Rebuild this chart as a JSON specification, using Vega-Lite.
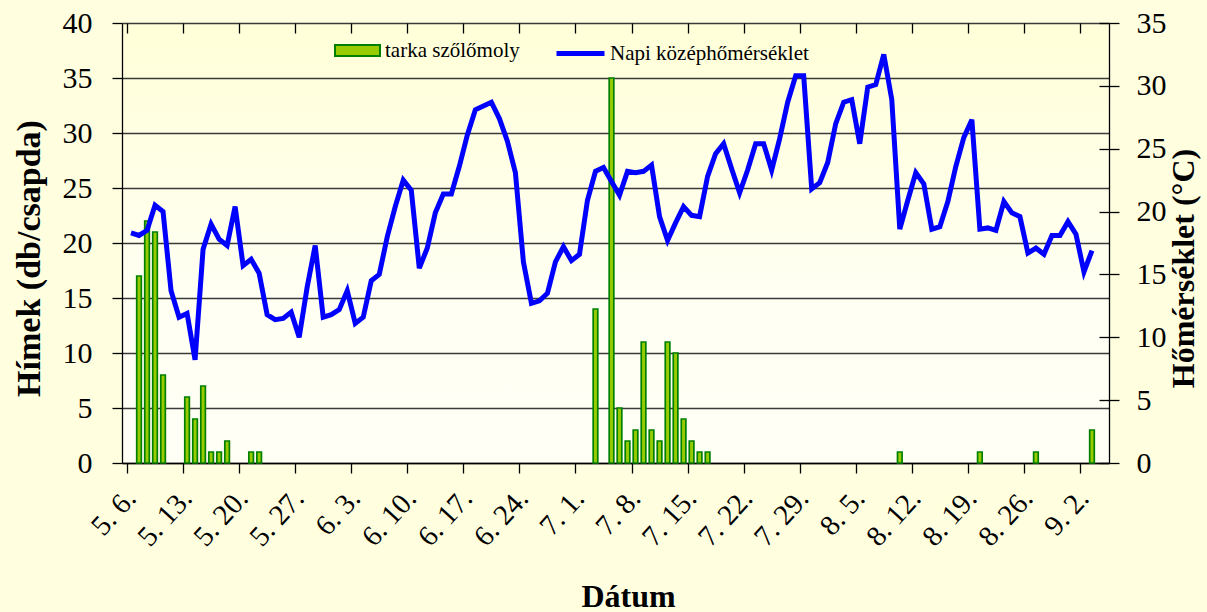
{
  "$schema": "https://vega.github.io/schema/vega-lite/v6.json",
  "autosize": "none",
  "width": 987,
  "height": 440,
  "padding": {"left": 122, "top": 23, "right": 98, "bottom": 149},
  "background": "#FFFFE0",
  "view": {"stroke": null, "fill": {"gradient": "linear", "x1": 0, "y1": 0, "x2": 0, "y2": 1, "stops": [{"offset": 0, "color": "#FFFFD8"}, {"offset": 0.6, "color": "#FFFFF2"}, {"offset": 1, "color": "#FFFFF6"}]}},
  "config": {
    "font": "Liberation Serif, Times New Roman, serif",
    "axis": {"labelFont": "Liberation Serif, Times New Roman, serif", "titleFont": "Liberation Serif, Times New Roman, serif", "labelColor": "#000000", "titleColor": "#000000", "domainColor": "#000000", "tickColor": "#000000", "domainWidth": 1.3, "tickWidth": 1.3},
    "legend": {"labelFont": "Liberation Serif, Times New Roman, serif", "labelColor": "#000000"}
  },
  "data": {"values": [
    {"date": "2010-05-06T12:00:00Z", "temp": 18.3},
    {"date": "2010-05-07T12:00:00Z", "temp": 18.1, "males": 17},
    {"date": "2010-05-08T12:00:00Z", "temp": 18.5, "males": 22},
    {"date": "2010-05-09T12:00:00Z", "temp": 20.5, "males": 21},
    {"date": "2010-05-10T12:00:00Z", "temp": 20.0, "males": 8},
    {"date": "2010-05-11T12:00:00Z", "temp": 13.7},
    {"date": "2010-05-12T12:00:00Z", "temp": 11.6},
    {"date": "2010-05-13T12:00:00Z", "temp": 11.9, "males": 6},
    {"date": "2010-05-14T12:00:00Z", "temp": 8.2, "males": 4},
    {"date": "2010-05-15T12:00:00Z", "temp": 17.0, "males": 7},
    {"date": "2010-05-16T12:00:00Z", "temp": 19.0, "males": 1},
    {"date": "2010-05-17T12:00:00Z", "temp": 17.8, "males": 1},
    {"date": "2010-05-18T12:00:00Z", "temp": 17.3, "males": 2},
    {"date": "2010-05-19T12:00:00Z", "temp": 20.4},
    {"date": "2010-05-20T12:00:00Z", "temp": 15.7},
    {"date": "2010-05-21T12:00:00Z", "temp": 16.2, "males": 1},
    {"date": "2010-05-22T12:00:00Z", "temp": 15.1, "males": 1},
    {"date": "2010-05-23T12:00:00Z", "temp": 11.8},
    {"date": "2010-05-24T12:00:00Z", "temp": 11.4},
    {"date": "2010-05-25T12:00:00Z", "temp": 11.5},
    {"date": "2010-05-26T12:00:00Z", "temp": 12.0},
    {"date": "2010-05-27T12:00:00Z", "temp": 10.0},
    {"date": "2010-05-28T12:00:00Z", "temp": 14.0},
    {"date": "2010-05-29T12:00:00Z", "temp": 17.3},
    {"date": "2010-05-30T12:00:00Z", "temp": 11.6},
    {"date": "2010-05-31T12:00:00Z", "temp": 11.8},
    {"date": "2010-06-01T12:00:00Z", "temp": 12.2},
    {"date": "2010-06-02T12:00:00Z", "temp": 13.7},
    {"date": "2010-06-03T12:00:00Z", "temp": 11.1},
    {"date": "2010-06-04T12:00:00Z", "temp": 11.6},
    {"date": "2010-06-05T12:00:00Z", "temp": 14.5},
    {"date": "2010-06-06T12:00:00Z", "temp": 15.0},
    {"date": "2010-06-07T12:00:00Z", "temp": 18.0},
    {"date": "2010-06-08T12:00:00Z", "temp": 20.4},
    {"date": "2010-06-09T12:00:00Z", "temp": 22.5},
    {"date": "2010-06-10T12:00:00Z", "temp": 21.7},
    {"date": "2010-06-11T12:00:00Z", "temp": 15.5},
    {"date": "2010-06-12T12:00:00Z", "temp": 17.1},
    {"date": "2010-06-13T12:00:00Z", "temp": 19.9},
    {"date": "2010-06-14T12:00:00Z", "temp": 21.4},
    {"date": "2010-06-15T12:00:00Z", "temp": 21.4},
    {"date": "2010-06-16T12:00:00Z", "temp": 23.6},
    {"date": "2010-06-17T12:00:00Z", "temp": 26.1},
    {"date": "2010-06-18T12:00:00Z", "temp": 28.1},
    {"date": "2010-06-19T12:00:00Z", "temp": 28.4},
    {"date": "2010-06-20T12:00:00Z", "temp": 28.7},
    {"date": "2010-06-21T12:00:00Z", "temp": 27.4},
    {"date": "2010-06-22T12:00:00Z", "temp": 25.6},
    {"date": "2010-06-23T12:00:00Z", "temp": 23.1},
    {"date": "2010-06-24T12:00:00Z", "temp": 16.0},
    {"date": "2010-06-25T12:00:00Z", "temp": 12.7},
    {"date": "2010-06-26T12:00:00Z", "temp": 12.9},
    {"date": "2010-06-27T12:00:00Z", "temp": 13.5},
    {"date": "2010-06-28T12:00:00Z", "temp": 16.0},
    {"date": "2010-06-29T12:00:00Z", "temp": 17.2},
    {"date": "2010-06-30T12:00:00Z", "temp": 16.1},
    {"date": "2010-07-01T12:00:00Z", "temp": 16.6},
    {"date": "2010-07-02T12:00:00Z", "temp": 20.9},
    {"date": "2010-07-03T12:00:00Z", "temp": 23.2, "males": 14},
    {"date": "2010-07-04T12:00:00Z", "temp": 23.5},
    {"date": "2010-07-05T12:00:00Z", "temp": 22.4, "males": 35},
    {"date": "2010-07-06T12:00:00Z", "temp": 21.3, "males": 5},
    {"date": "2010-07-07T12:00:00Z", "temp": 23.2, "males": 2},
    {"date": "2010-07-08T12:00:00Z", "temp": 23.1, "males": 3},
    {"date": "2010-07-09T12:00:00Z", "temp": 23.2, "males": 11},
    {"date": "2010-07-10T12:00:00Z", "temp": 23.7, "males": 3},
    {"date": "2010-07-11T12:00:00Z", "temp": 19.6, "males": 2},
    {"date": "2010-07-12T12:00:00Z", "temp": 17.7, "males": 11},
    {"date": "2010-07-13T12:00:00Z", "temp": 19.1, "males": 10},
    {"date": "2010-07-14T12:00:00Z", "temp": 20.4, "males": 4},
    {"date": "2010-07-15T12:00:00Z", "temp": 19.7, "males": 2},
    {"date": "2010-07-16T12:00:00Z", "temp": 19.6, "males": 1},
    {"date": "2010-07-17T12:00:00Z", "temp": 22.8, "males": 1},
    {"date": "2010-07-18T12:00:00Z", "temp": 24.6},
    {"date": "2010-07-19T12:00:00Z", "temp": 25.4},
    {"date": "2010-07-20T12:00:00Z", "temp": 23.4},
    {"date": "2010-07-21T12:00:00Z", "temp": 21.5},
    {"date": "2010-07-22T12:00:00Z", "temp": 23.3},
    {"date": "2010-07-23T12:00:00Z", "temp": 25.4},
    {"date": "2010-07-24T12:00:00Z", "temp": 25.4},
    {"date": "2010-07-25T12:00:00Z", "temp": 23.3},
    {"date": "2010-07-26T12:00:00Z", "temp": 25.8},
    {"date": "2010-07-27T12:00:00Z", "temp": 28.7},
    {"date": "2010-07-28T12:00:00Z", "temp": 30.8},
    {"date": "2010-07-29T12:00:00Z", "temp": 30.8},
    {"date": "2010-07-30T12:00:00Z", "temp": 21.8},
    {"date": "2010-07-31T12:00:00Z", "temp": 22.3},
    {"date": "2010-08-01T12:00:00Z", "temp": 23.9},
    {"date": "2010-08-02T12:00:00Z", "temp": 27.0},
    {"date": "2010-08-03T12:00:00Z", "temp": 28.7},
    {"date": "2010-08-04T12:00:00Z", "temp": 28.9},
    {"date": "2010-08-05T12:00:00Z", "temp": 25.4},
    {"date": "2010-08-06T12:00:00Z", "temp": 29.9},
    {"date": "2010-08-07T12:00:00Z", "temp": 30.1},
    {"date": "2010-08-08T12:00:00Z", "temp": 32.5},
    {"date": "2010-08-09T12:00:00Z", "temp": 28.9},
    {"date": "2010-08-10T12:00:00Z", "temp": 18.6, "males": 1},
    {"date": "2010-08-11T12:00:00Z", "temp": 20.9},
    {"date": "2010-08-12T12:00:00Z", "temp": 23.1},
    {"date": "2010-08-13T12:00:00Z", "temp": 22.2},
    {"date": "2010-08-14T12:00:00Z", "temp": 18.6},
    {"date": "2010-08-15T12:00:00Z", "temp": 18.8},
    {"date": "2010-08-16T12:00:00Z", "temp": 20.8},
    {"date": "2010-08-17T12:00:00Z", "temp": 23.6},
    {"date": "2010-08-18T12:00:00Z", "temp": 25.9},
    {"date": "2010-08-19T12:00:00Z", "temp": 27.3},
    {"date": "2010-08-20T12:00:00Z", "temp": 18.6, "males": 1},
    {"date": "2010-08-21T12:00:00Z", "temp": 18.7},
    {"date": "2010-08-22T12:00:00Z", "temp": 18.5},
    {"date": "2010-08-23T12:00:00Z", "temp": 20.8},
    {"date": "2010-08-24T12:00:00Z", "temp": 19.9},
    {"date": "2010-08-25T12:00:00Z", "temp": 19.6},
    {"date": "2010-08-26T12:00:00Z", "temp": 16.7},
    {"date": "2010-08-27T12:00:00Z", "temp": 17.1, "males": 1},
    {"date": "2010-08-28T12:00:00Z", "temp": 16.6},
    {"date": "2010-08-29T12:00:00Z", "temp": 18.1},
    {"date": "2010-08-30T12:00:00Z", "temp": 18.1},
    {"date": "2010-08-31T12:00:00Z", "temp": 19.2},
    {"date": "2010-09-01T12:00:00Z", "temp": 18.2},
    {"date": "2010-09-02T12:00:00Z", "temp": 15.2},
    {"date": "2010-09-03T12:00:00Z", "temp": 16.9, "males": 3}
  ]},
  "layer": [
    {
      "transform": [{"filter": "datum.males > 0"}],
      "mark": {"type": "bar", "width": 4.6, "stroke": "#008000", "strokeWidth": 1.7},
      "encoding": {
        "x": {"field": "date", "type": "temporal",
          "scale": {"type": "utc", "domain": [{"year": 2010, "month": 5, "date": 6, "utc": true}, {"year": 2010, "month": 9, "date": 5, "utc": true}]},
          "axis": {
            "values": [{"year": 2010, "month": 5, "date": 6, "utc": true}, {"year": 2010, "month": 5, "date": 13, "utc": true}, {"year": 2010, "month": 5, "date": 20, "utc": true}, {"year": 2010, "month": 5, "date": 27, "utc": true}, {"year": 2010, "month": 6, "date": 3, "utc": true}, {"year": 2010, "month": 6, "date": 10, "utc": true}, {"year": 2010, "month": 6, "date": 17, "utc": true}, {"year": 2010, "month": 6, "date": 24, "utc": true}, {"year": 2010, "month": 7, "date": 1, "utc": true}, {"year": 2010, "month": 7, "date": 8, "utc": true}, {"year": 2010, "month": 7, "date": 15, "utc": true}, {"year": 2010, "month": 7, "date": 22, "utc": true}, {"year": 2010, "month": 7, "date": 29, "utc": true}, {"year": 2010, "month": 8, "date": 5, "utc": true}, {"year": 2010, "month": 8, "date": 12, "utc": true}, {"year": 2010, "month": 8, "date": 19, "utc": true}, {"year": 2010, "month": 8, "date": 26, "utc": true}, {"year": 2010, "month": 9, "date": 2, "utc": true}],
            "labelExpr": "utcFormat(datum.value, '%-m. %-d.')",
            "labelFont": "Liberation Serif, Times New Roman, serif",
            "labelAngle": -48, "labelAlign": "right", "labelBaseline": "alphabetic",
            "labelFontSize": 29, "labelPadding": 26, "labelOffset": 10,
            "labelOverlap": false, "labelFlush": false, "labelBound": false,
            "tickSize": 10, "grid": false,
            "title": "Dátum", "titleFontSize": 32, "titleFontWeight": "bold",
            "titleX": 506, "titleY": 143, "titleAnchor": "middle", "titleAlign": "center", "titleBaseline": "alphabetic"
          }
        },
        "y": {"field": "males", "type": "quantitative",
          "scale": {"domain": [0, 40], "nice": false},
          "axis": {"orient": "left", "values": [0, 5, 10, 15, 20, 25, 30, 35, 40], "tickSize": 10, "labelPadding": 20,
            "labelFont": "Liberation Serif, Times New Roman, serif", "labelFontSize": 30,
            "grid": true, "gridColor": "#3a3a3a", "gridWidth": 1.3,
            "title": "Hímek (db/csapda)", "titleFontSize": 34, "titleFontWeight": "bold", "titleAngle": -90,
            "titleX": -93, "titleY": 235, "titleAlign": "center", "titleBaseline": "middle"}
        },
        "fill": {"datum": "tarka szőlőmoly", "type": "nominal", "scale": {"range": ["#99CC00"]},
          "legend": {"orient": "none", "legendX": 212, "legendY": 4, "title": null, "padding": 0,
            "symbolType": "M-1,-0.244H1V0.244H-1Z", "symbolSize": 2025, "symbolStrokeColor": "#008000", "symbolStrokeWidth": 2, "symbolFillColor": "#99CC00",
            "labelFont": "Liberation Serif, Times New Roman, serif", "labelFontSize": 21, "labelOffset": 4, "labelLimit": 400}}
      }
    },
    {
      "mark": {"type": "line", "strokeWidth": 5},
      "encoding": {
        "x": {"field": "date", "type": "temporal", "axis": null},
        "y": {"field": "temp", "type": "quantitative",
          "scale": {"domain": [0, 35], "nice": false},
          "axis": {"orient": "right", "values": [0, 5, 10, 15, 20, 25, 30, 35], "tickSize": 10, "labelPadding": 17,
            "labelFont": "Liberation Serif, Times New Roman, serif", "labelFontSize": 30, "grid": false,
            "title": "Hőmérséklet (°C)", "titleFontSize": 32, "titleFontWeight": "bold", "titleAngle": -90,
            "titleX": 74, "titleY": 245, "titleAlign": "center", "titleBaseline": "middle"}
        },
        "stroke": {"datum": "Napi középhőmérséklet", "type": "nominal", "scale": {"range": ["#0000FF"]},
          "legend": {"orient": "none", "legendX": 432, "legendY": 4, "title": null, "padding": 0,
            "symbolType": "stroke", "symbolSize": 2304, "symbolStrokeWidth": 5,
            "labelFont": "Liberation Serif, Times New Roman, serif", "labelFontSize": 21, "labelOffset": 3, "labelLimit": 400}}
      }
    },
    {
      "mark": {"type": "point", "opacity": 0},
      "encoding": {
        "x": {"field": "date", "type": "temporal",
          "axis": {
            "values": [{"year": 2010, "month": 5, "date": 6, "utc": true}, {"year": 2010, "month": 5, "date": 13, "utc": true}, {"year": 2010, "month": 5, "date": 20, "utc": true}, {"year": 2010, "month": 5, "date": 27, "utc": true}, {"year": 2010, "month": 6, "date": 3, "utc": true}, {"year": 2010, "month": 6, "date": 10, "utc": true}, {"year": 2010, "month": 6, "date": 17, "utc": true}, {"year": 2010, "month": 6, "date": 24, "utc": true}, {"year": 2010, "month": 7, "date": 1, "utc": true}, {"year": 2010, "month": 7, "date": 8, "utc": true}, {"year": 2010, "month": 7, "date": 15, "utc": true}, {"year": 2010, "month": 7, "date": 22, "utc": true}, {"year": 2010, "month": 7, "date": 29, "utc": true}, {"year": 2010, "month": 8, "date": 5, "utc": true}, {"year": 2010, "month": 8, "date": 12, "utc": true}, {"year": 2010, "month": 8, "date": 19, "utc": true}, {"year": 2010, "month": 8, "date": 26, "utc": true}, {"year": 2010, "month": 9, "date": 2, "utc": true}],
            "labels": false, "tickSize": -10, "domain": false, "grid": false, "title": null}
        },
        "y": {"field": "temp", "type": "quantitative",
          "scale": {"domain": [0, 35], "nice": false},
          "axis": {"orient": "right", "values": [0, 5, 10, 15, 20, 25, 30, 35], "labels": false, "tickSize": -10, "domain": false, "grid": false, "title": null}
        }
      }
    }
  ],
  "resolve": {"scale": {"y": "independent", "fill": "independent", "stroke": "independent"}, "axis": {"x": "independent", "y": "independent"}}
}
